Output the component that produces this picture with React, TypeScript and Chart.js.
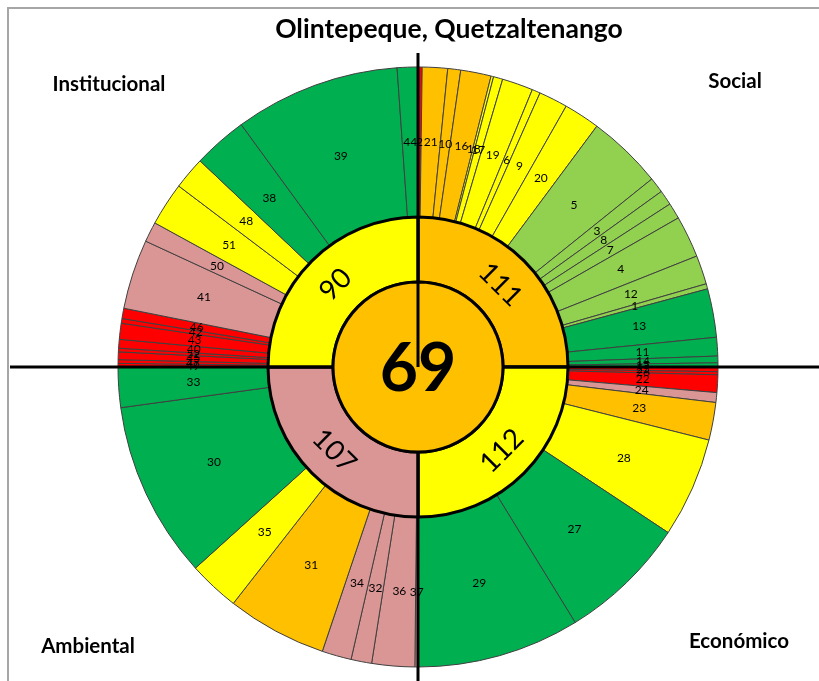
import React, { useEffect, useRef } from "react";
import { Chart, registerables } from "chart.js";

Chart.register(...registerables);

// ---------- data ----------
const chartTitle = "Olintepeque, Quetzaltenango";
const dimensionNames = ["Social", "Económico", "Ambiental", "Institucional"];
const dimensionScores = [111, 112, 107, 90];
const dimensionLevels = ["naranja", "amarillo", "rosa", "amarillo"];
const overallScore = 69;
const overallLevel = "naranja";

// indicators per dimension (clockwise order), angular share (degrees) and level
const socialIds = [2, 21, 10, 16, 18, 17, 19, 6, 9, 20, 5, 3, 8, 7, 4, 12, 1, 13, 11, 14, 15];
const socialShares = [0.8, 4.9, 2.5, 5.9, 0.5, 1.8, 6.0, 1.6, 5.6, 7.0, 14.6, 3.0, 2.9, 3.1, 8.1, 5.6, 1.0, 9.4, 3.6, 1.3, 0.8];
const socialLevels = [
  "rojo", "naranja", "naranja", "naranja",
  "amarillo", "amarillo", "amarillo", "amarillo", "amarillo", "amarillo",
  "verdeClaro", "verdeClaro", "verdeClaro", "verdeClaro", "verdeClaro", "verdeClaro", "verdeClaro",
  "verde", "verde", "verde", "verde",
];

const economicoIds = [25, 26, 22, 24, 23, 28, 27, 29];
const economicoShares = [0.9, 0.6, 3.4, 1.9, 7.3, 19.4, 24.9, 31.6];
const economicoLevels = ["rojo", "rojo", "rojo", "rosa", "naranja", "amarillo", "verde", "verde"];

const ambientalIds = [37, 36, 32, 34, 31, 35, 30, 33];
const ambientalShares = [0.6, 8.3, 4.0, 5.7, 19.4, 9.9, 34.3, 7.8];
const ambientalLevels = ["rosa", "rosa", "rosa", "rosa", "naranja", "amarillo", "verde", "verde"];

const institucionalIds = [49, 47, 45, 52, 40, 43, 42, 46, 41, 50, 51, 48, 38, 39, 44];
const institucionalShares = [0.7, 0.7, 1.5, 0.7, 1.7, 3.1, 0.9, 2.0, 13.5, 3.9, 8.4, 6.3, 10.5, 32.1, 4.0];
const institucionalLevels = [
  "rojo", "rojo", "rojo", "rojo", "rojo", "rojo", "rojo", "rojo",
  "rosa", "rosa", "amarillo", "amarillo", "verde", "verde", "verde",
];

// ---------- styles ----------
const levelColors: Record<string, string> = {
  rojo: "#FF0000",
  rosa: "#DA9694",
  naranja: "#FFC000",
  amarillo: "#FFFF00",
  verdeClaro: "#92D050",
  verde: "#00B050",
};

const FONT = "Lato, 'Open Sans', sans-serif";

const allIds = [...socialIds, ...economicoIds, ...ambientalIds, ...institucionalIds];
const allShares = [...socialShares, ...economicoShares, ...ambientalShares, ...institucionalShares];
const allLevels = [...socialLevels, ...economicoLevels, ...ambientalLevels, ...institucionalLevels];
const sum = (a: number[]) => a.reduce((s, v) => s + v, 0);
const dimensionShares = [socialShares, economicoShares, ambientalShares, institucionalShares].map(sum);

const overlayPlugin = {
  id: "overlay",
  beforeDraw(chart: any) {
    const ctx = chart.ctx;
    ctx.save();
    ctx.fillStyle = "#ffffff";
    ctx.fillRect(0, 0, chart.width, chart.height);
    ctx.strokeStyle = "#a6a6a6";
    ctx.lineWidth = 2;
    ctx.beginPath();
    ctx.moveTo(8, chart.height + 5);
    ctx.lineTo(8, 8);
    ctx.lineTo(chart.width + 5, 8);
    ctx.stroke();
    ctx.restore();
  },
  beforeDatasetDraw(chart: any, args: any) {
    if (args.index !== 2) return;
    const arc = chart.getDatasetMeta(2).data[0];
    const ctx = chart.ctx;
    ctx.save();
    ctx.strokeStyle = "#000";
    ctx.lineWidth = 3;
    ctx.beginPath();
    ctx.moveTo(10, arc.y);
    ctx.lineTo(chart.width, arc.y);
    ctx.moveTo(arc.x, 53);
    ctx.lineTo(arc.x, chart.height);
    ctx.stroke();
    ctx.restore();
  },
  afterDatasetsDraw(chart: any) {
    const ctx = chart.ctx;
    ctx.save();
    ctx.fillStyle = "#000";
    ctx.textAlign = "center";
    ctx.textBaseline = "middle";

    // outer indicator labels
    ctx.font = `12px ${FONT}`;
    chart.getDatasetMeta(0).data.forEach((arc: any, i: number) => {
      const p = arc.tooltipPosition(false);
      ctx.fillText(String(allIds[i]), p.x, p.y);
    });

    // dimension scores (rotated)
    ctx.font = `28px ${FONT}`;
    chart.getDatasetMeta(1).data.forEach((arc: any, i: number) => {
      const p = arc.tooltipPosition(false);
      const mid = (arc.startAngle + arc.endAngle) / 2;
      let rot = mid + Math.PI / 2;
      while (rot > Math.PI) rot -= 2 * Math.PI;
      if (rot > Math.PI / 2) rot -= Math.PI;
      if (rot < -Math.PI / 2) rot += Math.PI;
      ctx.save();
      ctx.translate(p.x, p.y);
      ctx.rotate(rot);
      ctx.fillText(String(dimensionScores[i]), 0, 1);
      ctx.restore();
    });

    // overall score
    const c = chart.getDatasetMeta(2).data[0];
    ctx.font = `bold 66px ${FONT}`;
    ctx.fillText(String(overallScore), c.x, c.y + 3);

    // title
    ctx.font = `bold 26.5px ${FONT}`;
    ctx.fillText(chartTitle, 449, 29);

    // dimension names
    ctx.font = `bold 20.5px ${FONT}`;
    ctx.fillText(dimensionNames[0], 735, 81);
    ctx.fillText(dimensionNames[1], 739, 641);
    ctx.fillText(dimensionNames[2], 88, 646);
    ctx.fillText(dimensionNames[3], 109, 84);
    ctx.restore();
  },
};

export default function App() {
  const canvasRef = useRef<HTMLCanvasElement | null>(null);

  useEffect(() => {
    const canvas = canvasRef.current;
    if (!canvas) return;
    const chart = new Chart(canvas, {
      type: "doughnut",
      data: {
        labels: allIds.map(String),
        datasets: [
          {
            label: "Indicadores",
            data: allShares,
            backgroundColor: allLevels.map((l) => levelColors[l]),
            borderColor: "#404040",
            borderWidth: 1,
            weight: 150,
            order: 2,
          } as any,
          {
            label: "Dimensiones",
            data: dimensionShares,
            backgroundColor: dimensionLevels.map((l) => levelColors[l]),
            borderColor: "#000000",
            borderWidth: 3,
            weight: 65,
            order: 1,
          } as any,
          {
            label: "Municipio",
            data: [overallScore],
            backgroundColor: [levelColors[overallLevel]],
            borderColor: "#000000",
            borderWidth: 3,
            weight: 85,
            order: 0,
          } as any,
        ],
      },
      options: {
        responsive: false,
        animation: false,
        cutout: 0,
        radius: 300,
        layout: { padding: { left: 118, right: 101, top: 67, bottom: 14 } },
        plugins: {
          legend: { display: false },
          tooltip: { enabled: false },
          title: { display: false },
        },
      } as any,
      plugins: [overlayPlugin as any],
    });
    return () => chart.destroy();
  }, []);

  return (
    <div style={{ position: "fixed", left: 0, top: 0, width: 819, height: 681, background: "#fff" }}>
      <canvas ref={canvasRef} width={819} height={681} style={{ display: "block" }} />
    </div>
  );
}
